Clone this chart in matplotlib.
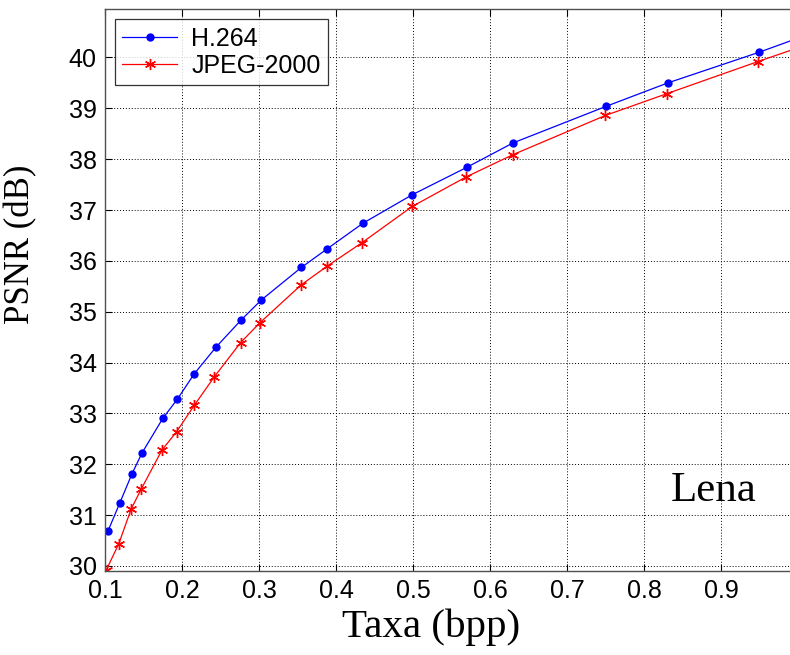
import numpy as np
import matplotlib
matplotlib.use("Agg")
import matplotlib.pyplot as plt

# rate (bpp) and PSNR (dB)
taxa_h264 = [0.104, 0.119, 0.135, 0.148, 0.175, 0.194, 0.216, 0.244, 0.277, 0.303,
             0.355, 0.388, 0.435, 0.499, 0.570, 0.630, 0.751, 0.831, 0.949, 1.000]
psnr_h264 = [30.69, 31.23, 31.81, 32.22, 32.90, 33.28, 33.78, 34.30, 34.84, 35.23,
             35.87, 36.23, 36.74, 37.30, 37.84, 38.32, 39.04, 39.50, 40.10, 40.38]

taxa_jpeg = [0.102, 0.118, 0.134, 0.147, 0.174, 0.193, 0.216, 0.242, 0.276, 0.301,
             0.355, 0.388, 0.434, 0.499, 0.569, 0.630, 0.750, 0.830, 0.948, 1.000]
psnr_jpeg = [29.93, 30.44, 31.12, 31.51, 32.28, 32.64, 33.16, 33.72, 34.39, 34.78,
             35.53, 35.89, 36.36, 37.07, 37.65, 38.09, 38.86, 39.29, 39.92, 40.19]

xticks = [0.1, 0.2, 0.3, 0.4, 0.5, 0.6, 0.7, 0.8, 0.9]
yticks = list(range(30, 41))

sans = ["Liberation Sans", "DejaVu Sans"]
serif = ["Liberation Serif", "DejaVu Serif"]

fig = plt.figure(figsize=(7.9, 6.55), dpi=100)
ax = fig.add_axes([0.1329, 0.1282, 0.8772, 0.8578])

ax.plot(taxa_h264, psnr_h264, color="blue", lw=0.9, marker="o", ms=6,
        markeredgewidth=0, label="H.264")
ax.plot(taxa_jpeg, psnr_jpeg, color="red", lw=0.9, marker=(6, 2, 0), ms=8,
        markeredgewidth=1.0, label="JPEG-2000")

ax.set_xlim(0.1, 1.0)
ax.set_ylim(29.9, 40.95)
ax.set_xticks(xticks)
ax.set_xticklabels([f"{t:g}" for t in xticks], family=sans, fontsize=18)
ax.set_yticks(yticks)
ax.set_yticklabels([str(t) for t in yticks], family=sans, fontsize=18)

ax.tick_params(direction="in", length=5, width=0.8, top=True, right=True,
               pad=6, colors="black")
for s in ax.spines.values():
    s.set_color("#505050")
    s.set_linewidth(1.0)

ax.grid(True, color="black", linestyle=(0, (1, 2)), linewidth=0.7)

ax.set_xlabel("Taxa (bpp)", family=serif, fontsize=29.5)
ax.set_ylabel("PSNR (dB)", family=serif, fontsize=25)
ax.xaxis.set_label_coords(0.47, -0.066)
ax.yaxis.set_label_coords(-0.097, 0.582)

ax.text(0.835, 31.28, "Lena", family=serif, fontsize=31)

leg = ax.legend(loc="upper left", prop={"family": sans, "size": 18},
                frameon=True, fancybox=False, borderaxespad=0.4,
                handlelength=2.2, handletextpad=0.55, borderpad=0.3,
                labelspacing=0.12)
leg.get_frame().set_edgecolor("black")
leg.get_frame().set_linewidth(0.9)

fig.savefig("out.png", dpi=100)
